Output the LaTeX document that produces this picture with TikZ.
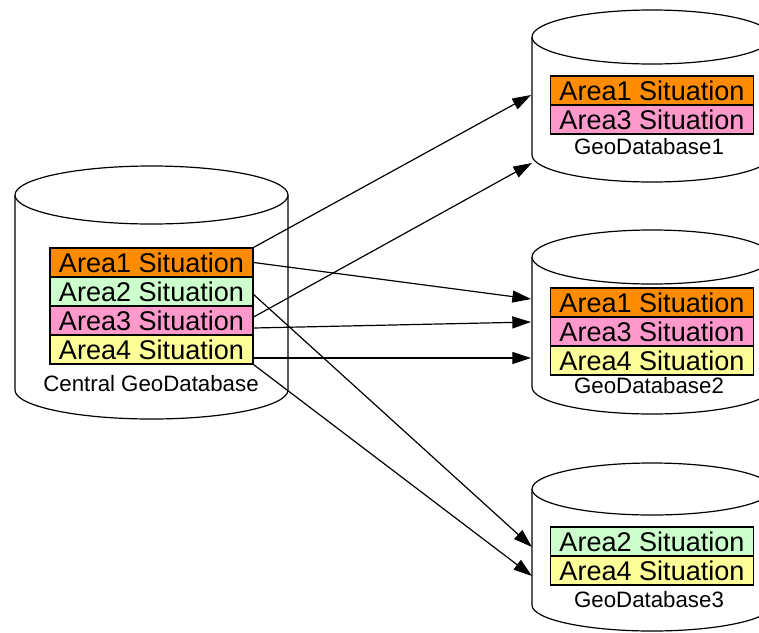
\documentclass[tikz,border=0pt]{standalone}
\usepackage{fontspec}
\setmainfont{Liberation Sans}
\usetikzlibrary{arrows.meta,calc}

\definecolor{areaone}{RGB}{255,140,0}
\definecolor{areatwo}{RGB}{204,255,204}
\definecolor{areathree}{RGB}{255,153,204}
\definecolor{areafour}{RGB}{255,255,153}

\tikzset{
  area/.style={draw, line width=0.9pt, minimum width=152.25pt, minimum height=21.75pt,
    inner sep=0pt, text height=14.3pt, text depth=0pt,
    font=\fontsize{20.3pt}{21pt}\selectfont},
  dbname/.style={inner sep=0pt, font=\fontsize{16.7pt}{17pt}\selectfont},
  drumline/.style={draw, line width=0.9pt, fill=white},
  feed/.style={-{Triangle[length=14pt,width=9pt]}, line width=0.9pt}
}

% cylinder: centre x, half width, top rim y, bottom rim y, rim half height
\newcommand\dbdrum[5]{%
  \path[drumline] (#1-#2,#3) -- (#1-#2,#4)
    arc[start angle=180, end angle=0, x radius=#2, y radius=#5] -- (#1+#2,#3);
  \path[drumline] (#1,#3) ellipse[x radius=#2, y radius=#5];
}

\begin{document}
\begin{tikzpicture}[x=0.75pt, y=-0.75pt]
  \useasboundingbox (0,0) rectangle (759,632);
  \clip (0,0) rectangle (759,632);

  % database cylinders
  \dbdrum{151.5}{136.5}{195}{390}{29}
  \dbdrum{652}{120}{37}{155}{27}
  \dbdrum{652}{120}{257}{387}{27}
  \dbdrum{652}{120}{489}{605}{26}

  % central database
  \node[area, fill=areaone]   (c1) at (151.5,262.5) {Area1 Situation};
  \node[area, fill=areatwo]   (c2) at (151.5,291.5) {Area2 Situation};
  \node[area, fill=areathree] (c3) at (151.5,320.5) {Area3 Situation};
  \node[area, fill=areafour]  (c4) at (151.5,349.5) {Area4 Situation};
  \node[dbname] (cname) at (151,384) {Central GeoDatabase};

  % GeoDatabase1
  \node[area, fill=areaone]   (g1a) at (652,90.5)  {Area1 Situation};
  \node[area, fill=areathree] (g1c) at (652,119.5) {Area3 Situation};
  \node[dbname] (g1name) at (649,147) {GeoDatabase1};

  % GeoDatabase2
  \node[area, fill=areaone]   (g2a) at (652,302.5) {Area1 Situation};
  \node[area, fill=areathree] (g2c) at (652,331.5) {Area3 Situation};
  \node[area, fill=areafour]  (g2d) at (652,360.5) {Area4 Situation};
  \node[dbname] (g2name) at (649,386) {GeoDatabase2};

  % GeoDatabase3
  \node[area, fill=areatwo]   (g3b) at (652,541.5) {Area2 Situation};
  \node[area, fill=areafour]  (g3d) at (652,570.5) {Area4 Situation};
  \node[dbname] (g3name) at (649,600) {GeoDatabase3};

  % entry points on the cylinder walls
  \coordinate (in1a) at (531,95);
  \coordinate (in1b) at (532,163);
  \coordinate (in2a) at (531,299);
  \coordinate (in2b) at (531,322);
  \coordinate (in2c) at (531,358);
  \coordinate (in3a) at (532,547);
  \coordinate (in3b) at (532,576);

  % replication links
  \draw[feed] (c1.north east) -- (in1a);
  \draw[feed] (c1.east) -- (in2a);
  \draw[feed] ($(c2.east)+(0,3)$) -- (in3a);
  \draw[feed] ($(c3.east)+(0,-3.5)$) -- (in1b);
  \draw[feed] ($(c3.east)+(0,7.5)$) -- (in2b);
  \draw[feed] ($(c4.east)+(0,8.5)$) -- (in2c);
  \draw[feed] (c4.south east) -- (in3b);
\end{tikzpicture}
\end{document}
